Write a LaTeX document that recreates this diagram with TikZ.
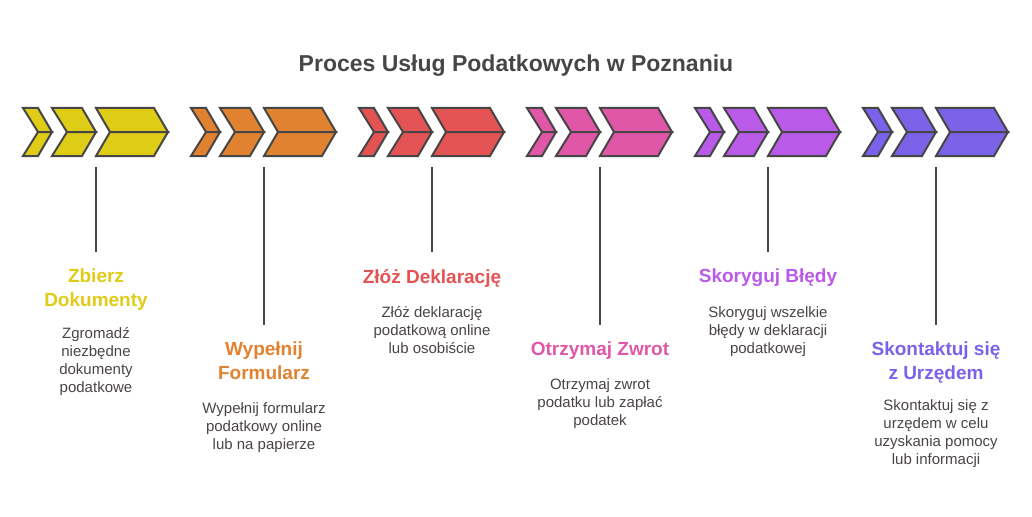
\documentclass[tikz,border=0pt]{standalone}
\usepackage{fontspec}
\setmainfont{Liberation Sans}
\usetikzlibrary{positioning}
\definecolor{CY}{RGB}{222,204,22}
\definecolor{CO}{RGB}{224,130,47}
\definecolor{CR}{RGB}{227,83,83}
\definecolor{CK}{RGB}{223,87,166}
\definecolor{CP}{RGB}{185,90,232}
\definecolor{CV}{RGB}{123,98,232}
\definecolor{DG}{RGB}{70,70,70}
\definecolor{TX}{RGB}{75,68,68}

\begin{document}
\begin{tikzpicture}[x=1pt, y=-1pt,
  chev/.style={draw=DG, line width=2pt, fill=#1},
  stem/.style={draw=DG, line width=2pt, shorten <=11pt, shorten >=17pt},
  head/.style={text=#1, font=\fontsize{19}{24}\selectfont\bfseries,
               align=center, inner sep=0pt, anchor=north},
  desc/.style={text=TX, font=\fontsize{15}{18}\selectfont,
               align=center, inner sep=0pt, anchor=north}
]
\useasboundingbox (0,0) rectangle (1032,516);

\node[font=\fontsize{23}{27}\selectfont\bfseries, text=DG] (T) at (516,66)
  {Proces Usług Podatkowych w Poznaniu};

% Chevron groups
\foreach \i/\L/\c in {1/96/CY, 2/264/CO, 3/432/CR, 4/600/CK, 5/768/CP, 6/936/CV} {
  \foreach \a/\n/\b/\t in {-73/-58/-58/-44, -44/-29/-14/0, 0/14/58/72} {
    \draw[chev=\c] ({\L+\a},108) -- ({\L+\b},108) -- ({\L+\t},132)
      -- ({\L+\n},132) -- cycle;
    \draw[chev=\c] ({\L+\n},132) -- ({\L+\t},132) -- ({\L+\b},156)
      -- ({\L+\a},156) -- cycle;
  }
  \coordinate (g\i) at (\L,156);
}

% Step 1
\node[head=CY] (h1) at (96,269) {Zbierz\\Dokumenty};
\node[desc] (d1) at (96,327) {Zgromadź\\niezbędne\\dokumenty\\podatkowe};
\draw[stem] (g1) -- (h1.north);

% Step 2
\node[head=CO] (h2) at (264,342) {Wypełnij\\Formularz};
\node[desc] (d2) at (264,402) {Wypełnij formularz\\podatkowy online\\lub na papierze};
\draw[stem] (g2) -- (h2.north);

% Step 3
\node[head=CR] (h3) at (432,269) {Złóż Deklarację};
\node[desc] (d3) at (432,306) {Złóż deklarację\\podatkową online\\lub osobiście};
\draw[stem] (g3) -- (h3.north);

% Step 4
\node[head=CK] (h4) at (600,342) {Otrzymaj Zwrot};
\node[desc] (d4) at (600,378) {Otrzymaj zwrot\\podatku lub zapłać\\podatek};
\draw[stem] (g4) -- (h4.north);

% Step 5
\node[head=CP] (h5) at (768,269) {Skoryguj Błędy};
\node[desc] (d5) at (768,306) {Skoryguj wszelkie\\błędy w deklaracji\\podatkowej};
\draw[stem] (g5) -- (h5.north);

% Step 6
\node[head=CV] (h6) at (936,342) {Skontaktuj się\\z Urzędem};
\node[desc] (d6) at (936,399) {Skontaktuj się z\\urzędem w celu\\uzyskania pomocy\\lub informacji};
\draw[stem] (g6) -- (h6.north);
\end{tikzpicture}
\end{document}
